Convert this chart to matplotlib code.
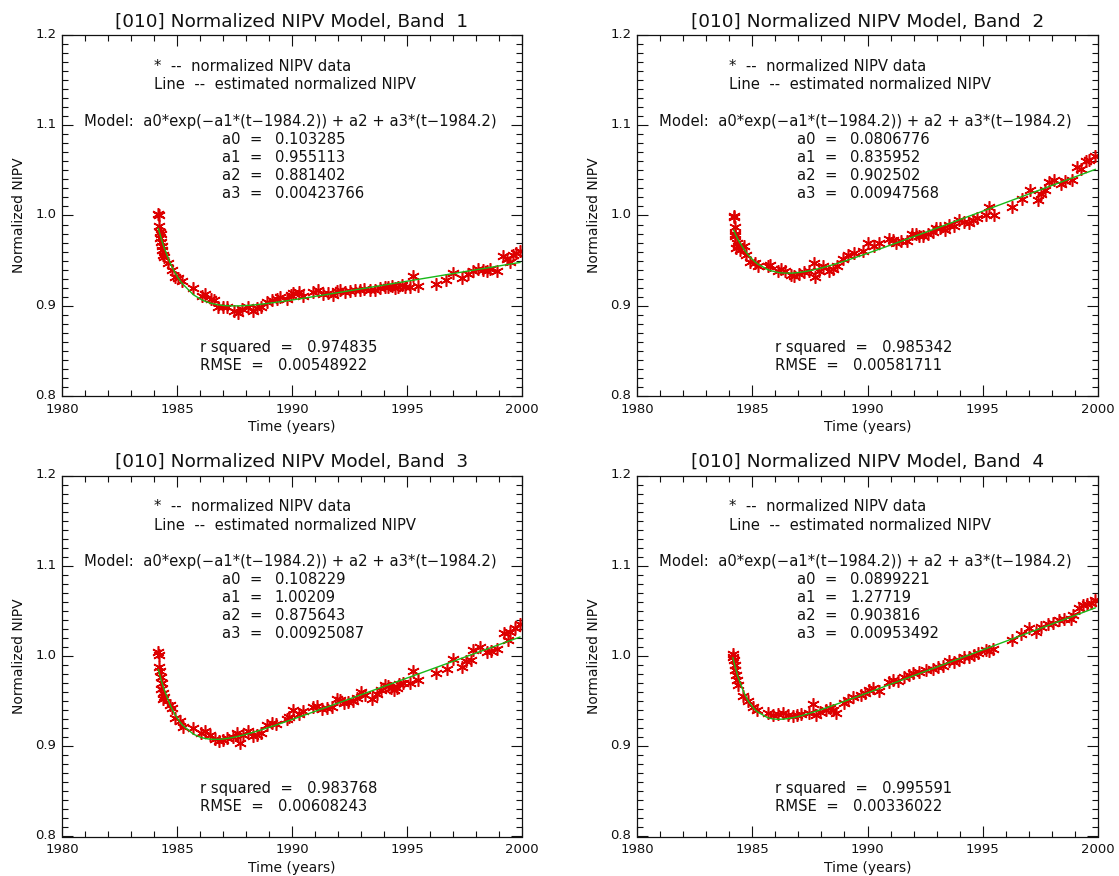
import numpy as np
import matplotlib
matplotlib.use("Agg")
import matplotlib.pyplot as plt
import matplotlib.transforms as mtransforms
from matplotlib.ticker import MultipleLocator

# ---------------- data ----------------
bands = ["1", "2", "3", "4"]

t1 = [1984.19, 1984.22, 1984.23, 1984.26, 1984.29, 1984.27, 1984.30, 1984.33, 1984.35, 1984.38,
      1984.43, 1984.62, 1984.77, 1984.91, 1985.06, 1985.20, 1985.71, 1986.07, 1986.22, 1986.46,
      1986.61, 1986.80, 1987.01, 1987.19, 1987.48, 1987.67, 1987.81, 1988.10, 1988.32, 1988.46,
      1988.64, 1988.90, 1989.12, 1989.33, 1989.48, 1989.77, 1989.94, 1990.06, 1990.32, 1990.46,
      1990.93, 1991.14, 1991.33, 1991.58, 1991.77, 1991.94, 1992.09, 1992.30, 1992.52, 1992.74,
      1992.96, 1993.13, 1993.39, 1993.61, 1993.83, 1994.04, 1994.19, 1994.33, 1994.48, 1994.62,
      1994.77, 1994.91, 1995.13, 1995.25, 1995.49, 1996.26, 1996.69, 1997.01, 1997.38, 1997.67,
      1997.85, 1998.10, 1998.32, 1998.46, 1998.61, 1998.90, 1999.16, 1999.33, 1999.48, 1999.59,
      1999.74, 1999.91]
y1 = [1.002, 1.000, 0.988, 0.982, 0.979, 0.975, 0.971, 0.966, 0.962, 0.956,
      0.954, 0.947, 0.940, 0.932, 0.931, 0.927, 0.920, 0.911, 0.913, 0.908,
      0.906, 0.899, 0.899, 0.899, 0.894, 0.892, 0.896, 0.899, 0.894, 0.897,
      0.899, 0.904, 0.906, 0.907, 0.910, 0.908, 0.912, 0.914, 0.915, 0.911,
      0.915, 0.917, 0.913, 0.914, 0.912, 0.916, 0.918, 0.915, 0.916, 0.917,
      0.917, 0.919, 0.918, 0.918, 0.920, 0.921, 0.921, 0.922, 0.920, 0.921,
      0.923, 0.921, 0.921, 0.933, 0.922, 0.924, 0.929, 0.936, 0.931, 0.935,
      0.938, 0.941, 0.940, 0.938, 0.941, 0.938, 0.955, 0.952, 0.949, 0.956,
      0.958, 0.961]

t2 = [1984.19, 1984.20, 1984.23, 1984.24, 1984.27, 1984.33, 1984.37, 1984.30, 1984.45, 1984.66,
      1984.74, 1984.91, 1985.10, 1985.24, 1985.68, 1985.78, 1986.11, 1986.25, 1986.44, 1986.69,
      1986.83, 1987.02, 1987.26, 1987.48, 1987.66, 1987.74, 1987.89, 1988.09, 1988.35, 1988.49,
      1988.67, 1988.93, 1989.14, 1989.43, 1989.82, 1990.01, 1990.30, 1990.49, 1990.95, 1991.09,
      1991.24, 1991.46, 1991.70, 1991.93, 1992.11, 1992.25, 1992.42, 1992.61, 1992.83, 1992.97,
      1993.15, 1993.38, 1993.55, 1993.77, 1993.98, 1994.20, 1994.39, 1994.56, 1994.74, 1995.14,
      1995.26, 1995.50, 1996.27, 1996.70, 1997.05, 1997.38, 1997.53, 1997.71, 1997.86, 1998.10,
      1998.39, 1998.58, 1998.87, 1999.11, 1999.26, 1999.48, 1999.62, 1999.88]
y2 = [0.999, 0.998, 0.987, 0.980, 0.977, 0.969, 0.966, 0.964, 0.962, 0.966,
      0.956, 0.949, 0.947, 0.944, 0.944, 0.945, 0.939, 0.941, 0.938, 0.934,
      0.933, 0.935, 0.937, 0.939, 0.947, 0.932, 0.938, 0.944, 0.938, 0.941,
      0.944, 0.952, 0.956, 0.959, 0.961, 0.969, 0.966, 0.970, 0.974, 0.973,
      0.970, 0.972, 0.972, 0.980, 0.979, 0.977, 0.977, 0.979, 0.982, 0.986,
      0.986, 0.984, 0.990, 0.988, 0.995, 0.993, 0.992, 0.995, 0.997, 1.000,
      1.009, 1.000, 1.009, 1.018, 1.028, 1.017, 1.024, 1.028, 1.037, 1.039,
      1.035, 1.038, 1.039, 1.054, 1.052, 1.060, 1.062, 1.066]

t3 = [1984.19, 1984.21, 1984.22, 1984.26, 1984.29, 1984.33, 1984.30, 1984.38, 1984.43, 1984.40,
      1984.69, 1984.77, 1984.91, 1985.13, 1985.25, 1985.71, 1986.03, 1986.22, 1986.43, 1986.65,
      1986.84, 1987.01, 1987.19, 1987.45, 1987.62, 1987.74, 1987.88, 1988.10, 1988.32, 1988.49,
      1988.64, 1988.90, 1989.12, 1989.30, 1989.77, 1989.88, 1990.06, 1990.32, 1990.49, 1990.93,
      1991.07, 1991.29, 1991.51, 1991.72, 1991.94, 1992.09, 1992.26, 1992.45, 1992.67, 1992.81,
      1992.98, 1993.17, 1993.46, 1993.71, 1993.85, 1994.04, 1994.19, 1994.29, 1994.43, 1994.55,
      1994.67, 1994.84, 1995.13, 1995.25, 1995.49, 1996.26, 1996.72, 1997.01, 1997.38, 1997.56,
      1997.77, 1997.88, 1998.17, 1998.46, 1998.64, 1998.90, 1999.22, 1999.41, 1999.48, 1999.70,
      1999.91]
y3 = [1.004, 1.001, 0.988, 0.983, 0.977, 0.970, 0.963, 0.959, 0.955, 0.952,
      0.946, 0.942, 0.931, 0.928, 0.921, 0.920, 0.915, 0.917, 0.913, 0.908,
      0.906, 0.907, 0.909, 0.910, 0.915, 0.904, 0.912, 0.917, 0.911, 0.913,
      0.915, 0.924, 0.926, 0.925, 0.930, 0.932, 0.940, 0.936, 0.939, 0.944,
      0.945, 0.941, 0.942, 0.943, 0.952, 0.951, 0.948, 0.949, 0.950, 0.953,
      0.960, 0.957, 0.952, 0.958, 0.962, 0.968, 0.967, 0.964, 0.962, 0.965,
      0.969, 0.970, 0.970, 0.983, 0.973, 0.981, 0.986, 0.997, 0.988, 0.994,
      0.996, 1.007, 1.010, 1.004, 1.006, 1.008, 1.025, 1.018, 1.027, 1.031,
      1.036]

t4 = [1984.16, 1984.18, 1984.20, 1984.23, 1984.26, 1984.30, 1984.33, 1984.37, 1984.62, 1984.81,
      1985.03, 1985.20, 1985.68, 1985.89, 1986.11, 1986.33, 1986.54, 1986.76, 1986.93, 1987.12,
      1987.45, 1987.63, 1987.77, 1987.92, 1988.18, 1988.38, 1988.49, 1988.64, 1988.96, 1989.14,
      1989.36, 1989.72, 1989.87, 1990.08, 1990.26, 1990.49, 1990.95, 1991.09, 1991.31, 1991.60,
      1991.82, 1991.96, 1992.25, 1992.54, 1992.83, 1993.05, 1993.26, 1993.55, 1993.77, 1993.98,
      1994.20, 1994.42, 1994.63, 1994.78, 1995.14, 1995.29, 1995.46, 1996.27, 1996.66, 1997.02,
      1997.31, 1997.53, 1997.81, 1998.03, 1998.32, 1998.54, 1998.83, 1998.90, 1999.19, 1999.33,
      1999.51, 1999.69, 1999.88]
y4 = [1.002, 0.999, 0.996, 0.990, 0.985, 0.979, 0.973, 0.968, 0.956, 0.950,
      0.944, 0.940, 0.937, 0.935, 0.936, 0.937, 0.935, 0.934, 0.935, 0.936,
      0.937, 0.947, 0.935, 0.938, 0.940, 0.942, 0.940, 0.937, 0.948, 0.951,
      0.955, 0.957, 0.959, 0.962, 0.964, 0.961, 0.971, 0.973, 0.972, 0.977,
      0.979, 0.981, 0.982, 0.984, 0.986, 0.988, 0.989, 0.994, 0.993, 0.996,
      0.999, 0.999, 1.001, 1.003, 1.007, 1.005, 1.008, 1.018, 1.024, 1.031,
      1.027, 1.032, 1.036, 1.037, 1.040, 1.041, 1.041, 1.045, 1.053, 1.056,
      1.058, 1.059, 1.062]

# fitted model parameters shown on the chart
a0_vals = [0.103285, 0.0806776, 0.108229, 0.0899221]
a1_vals = [0.955113, 0.835952, 1.00209, 1.27719]
a2_vals = [0.881402, 0.902502, 0.875643, 0.903816]
a3_vals = [0.00423766, 0.00947568, 0.00925087, 0.00953492]
a0_txt = ["0.103285", "0.0806776", "0.108229", "0.0899221"]
a1_txt = ["0.955113", "0.835952", "1.00209", "1.27719"]
a2_txt = ["0.881402", "0.902502", "0.875643", "0.903816"]
a3_txt = ["0.00423766", "0.00947568", "0.00925087", "0.00953492"]
rsq_txt = ["0.974835", "0.985342", "0.983768", "0.995591"]
rmse_txt = ["0.00548922", "0.00581711", "0.00608243", "0.00336022"]
T0 = 1984.2

times = [t1, t2, t3, t4]
vals = [y1, y2, y3, y4]

# ---------------- figure ----------------
W, H = 1119, 876
fig = plt.figure(figsize=(W / 100, H / 100), dpi=100)
plt.rcParams['font.family'] = ['DejaVu Sans']

# axes boxes in pixels: (left, right, top, bottom)
boxes = [(62, 522, 35, 396), (637, 1098, 35, 396),
         (62, 522, 475.5, 836.5), (637, 1098, 475.5, 836.5)]

txtc = '#111111'
fs = 10.6
for i, (l, r, tp, b) in enumerate(boxes):
    ax = fig.add_axes([l / W, 1 - b / H, (r - l) / W, (b - tp) / H])
    t = np.array(times[i])
    y = np.array(vals[i])
    ax.plot(t, y, linestyle='none', marker=(6, 2, 0), markersize=9,
            markeredgewidth=1.15, color='#dd0000', zorder=2)
    ts = np.sort(t)
    model = a0_vals[i] * np.exp(-a1_vals[i] * (ts - T0)) + a2_vals[i] + a3_vals[i] * (ts - T0)
    ax.plot(ts, model, color='#18b818', linewidth=1.0, zorder=3)

    ax.set_xlim(1980, 2000)
    ax.set_ylim(0.8, 1.2)
    ax.xaxis.set_major_locator(MultipleLocator(5))
    ax.xaxis.set_minor_locator(MultipleLocator(1))
    ax.yaxis.set_minor_locator(MultipleLocator(0.01))
    ax.set_yticks([0.8, 0.9, 1.0, 1.1, 1.2])
    ax.set_yticklabels(["0.8", "0.9", "1.0", "1.1", "1.2"])
    ax.tick_params(which='both', direction='in', top=True, right=True,
                   colors='#111111', labelsize=9.5, width=0.8)
    ax.tick_params(axis='x', which='major', length=8, pad=5)
    ax.tick_params(axis='y', which='major', length=8, pad=4)
    ax.tick_params(which='minor', length=4)
    off = mtransforms.ScaledTranslation(0, 1.5 / 72, fig.dpi_scale_trans)
    for lab in ax.get_yticklabels():
        lab.set_transform(lab.get_transform() + off)
    for s in ax.spines.values():
        s.set_linewidth(0.9)
        s.set_color('#111111')

    ax.set_title("[010] Normalized NIPV Model, Band  " + bands[i], fontsize=13.3,
                 color=txtc, pad=6)
    ax.set_xlabel("Time (years)", fontsize=10, color=txtc, labelpad=3)
    ax.set_ylabel("Normalized NIPV", fontsize=10, color=txtc, labelpad=7)

    tr = ax.transAxes
    ax.text(0.20, 0.913, "*  --  normalized NIPV data", transform=tr, fontsize=fs,
            color=txtc, va='center')
    ax.text(0.20, 0.862, "Line  --  estimated normalized NIPV", transform=tr, fontsize=fs,
            color=txtc, va='center')
    ax.text(0.048, 0.761,
            "Model:  a0*exp(\u2212a1*(t\u22121984.2)) + a2 + a3*(t\u22121984.2)",
            transform=tr, fontsize=fs, color=txtc, va='center')
    for k, (nm, vt) in enumerate(zip(["a0", "a1", "a2", "a3"],
                                     [a0_txt[i], a1_txt[i], a2_txt[i], a3_txt[i]])):
        yy = 0.711 - k * 0.0500
        ax.text(0.348, yy, nm + "  =", transform=tr, fontsize=fs, color=txtc, va='center')
        ax.text(0.4625, yy, vt, transform=tr, fontsize=fs, color=txtc, va='center')
    ax.text(0.299, 0.133, "r squared  =   " + rsq_txt[i], transform=tr, fontsize=fs,
            color=txtc, va='center')
    ax.text(0.299, 0.084, "RMSE  =   " + rmse_txt[i], transform=tr, fontsize=fs,
            color=txtc, va='center')

fig.savefig("out.png", dpi=100)
